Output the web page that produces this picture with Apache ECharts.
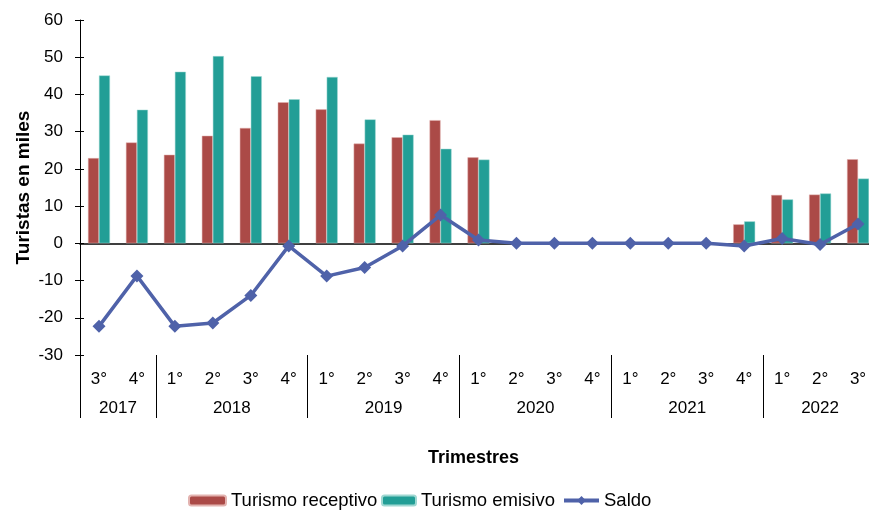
<!DOCTYPE html>
<html><head><meta charset="utf-8">
<script src="https://cdn.jsdelivr.net/npm/echarts@6/dist/echarts.min.js"></script>
<style>html,body{margin:0;padding:0;background:#fff;overflow:hidden}#c{width:884px;height:516px}</style>
</head><body><div id="c"></div>
<script>
var quarters = ['3°','4°','1°','2°','3°','4°','1°','2°','3°','4°','1°','2°','3°','4°','1°','2°','3°','4°','1°','2°','3°'];
var years = ['2017','2018','2019','2020','2021','2022'];
var yearCenters = [1, 4, 8, 12, 16, 19.5];
var yearBounds = [0, 2, 6, 10, 14, 18];
var receptivo = [22.9, 27.1, 23.8, 28.9, 31.0, 37.9, 36.0, 26.8, 28.5, 33.1, 23.1, 0, 0, 0, 0, 0, 0, 5.1, 13.0, 13.1, 22.6];
var emisivo   = [45.1, 35.9, 46.1, 50.3, 44.9, 38.7, 44.7, 33.3, 29.2, 25.4, 22.5, 0, 0, 0, 0, 0, 0, 5.9, 11.8, 13.4, 17.4];
var saldo     = [-22.3, -8.75, -22.3, -21.4, -14.0, -0.7, -8.8, -6.5, -0.7, 7.6, 0.9, 0, 0, 0, 0, 0, 0, -0.7, 1.3, -0.3, 5.2];

var FONT = 'Liberation Sans, Arial, Helvetica, sans-serif';
var legendBase = {
  top: 491, itemHeight: 10, itemGap: 0, padding: 0,
  textStyle: { fontFamily: FONT, fontSize: 18.5, color: '#000' }
};
var chart = echarts.init(document.getElementById('c'));
chart.setOption({
  animation: false,
  grid: { left: 80, top: 20, width: 797, height: 335 },
  legend: [
    Object.assign({}, legendBase, { left: 188, itemWidth: 37, data: ['Turismo receptivo'] }),
    Object.assign({}, legendBase, { left: 381, itemWidth: 34, data: ['Turismo emisivo'] }),
    Object.assign({}, legendBase, { left: 562, itemWidth: 35, itemHeight: 11, lineStyle: { width: 4 }, data: ['Saldo'] })
  ],
  graphic: [{
    type: 'text', left: 428, top: 449,
    style: { text: 'Trimestres', font: 'bold 18px ' + FONT, fill: '#000' }
  }],
  xAxis: [
    {
      type: 'category', data: quarters, position: 'bottom',
      axisLine: { show: false, onZero: false }, axisTick: { show: false },
      axisLabel: { fontFamily: FONT, fontSize: 17, color: '#000', margin: 16, interval: 0 }
    },
    {
      type: 'value', min: 0, max: 21, position: 'bottom',
      axisLine: { show: false, onZero: false }, splitLine: { show: false },
      axisTick: { show: true, customValues: yearBounds, length: 63, lineStyle: { color: '#000', width: 1 } },
      axisLabel: {
        customValues: yearCenters, fontFamily: FONT, fontSize: 17, color: '#000', margin: 45,
        formatter: function (v) { var i = yearCenters.indexOf(v); return i >= 0 ? years[i] : ''; }
      }
    },
    {
      type: 'category', data: quarters, position: 'bottom',
      axisLine: { show: true, onZero: true, onZeroAxisIndex: 0, lineStyle: { color: '#000', width: 1.5 } },
      axisTick: { show: false }, axisLabel: { show: false }
    }
  ],
  yAxis: [
    {
      type: 'value', min: -30, max: 60, interval: 10,
      name: 'Turistas en miles', nameLocation: 'middle', nameGap: 47, nameMoveOverlap: false,
      nameTextStyle: { fontFamily: FONT, fontSize: 19, fontWeight: 'bold', color: '#000' },
      axisLine: { show: true, onZero: false, lineStyle: { color: '#000', width: 1 } },
      axisTick: { show: true, length: 5, lineStyle: { color: '#000' } },
      splitLine: { show: false },
      axisLabel: { fontFamily: FONT, fontSize: 17, color: '#000', margin: 17 }
    },
    {
      type: 'value', min: -30, max: 60, interval: 10, position: 'left',
      axisLine: { show: false, onZero: false },
      axisTick: { show: true, inside: true, length: 4, lineStyle: { color: '#000' } },
      splitLine: { show: false }, axisLabel: { show: false }
    }
  ],
  series: [
    {
      name: 'Turismo receptivo', type: 'bar', xAxisIndex: 0, data: receptivo,
      barWidth: 11, barGap: '0%',
      itemStyle: { color: '#AB4A47', borderColor: '#E3B3B0', borderWidth: 0.5 }
    },
    {
      name: 'Turismo emisivo', type: 'bar', xAxisIndex: 0, data: emisivo,
      barWidth: 11, barGap: '0%',
      itemStyle: { color: '#229E96', borderColor: '#9FD8D2', borderWidth: 0.5 }
    },
    {
      name: 'Saldo', type: 'line', xAxisIndex: 0, data: saldo, z: 5,
      symbol: 'diamond', symbolSize: 13,
      lineStyle: { color: '#4F62A9', width: 3.5 },
      itemStyle: { color: '#4F62A9' }
    }
  ]
});
</script></body></html>
